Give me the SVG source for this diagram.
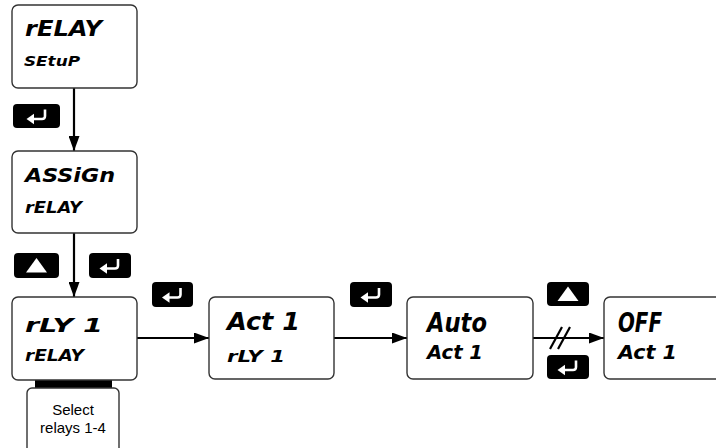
<svg xmlns="http://www.w3.org/2000/svg" xmlns:xlink="http://www.w3.org/1999/xlink" width="716" height="448" viewBox="0 0 716 448">
<style>
.box{fill:#fff;stroke:#333;stroke-width:1.4}
.btn{fill:#000}
.disp{font-family:"DejaVu Sans Condensed","DejaVu Sans",sans-serif;font-weight:bold;font-style:italic;fill:#000}
.conn{stroke:#000;stroke-width:2.2;fill:none}
.lbl{font-family:"Liberation Sans",Arial,sans-serif;font-size:15px;fill:#000;text-anchor:middle}
</style>
<defs>
<marker id="ah" markerUnits="userSpaceOnUse" markerWidth="15" markerHeight="11" refX="15" refY="5.5" orient="auto">
<path d="M0,0 L15,5.5 L0,11 z" fill="#000"/>
</marker>
<g id="enterIcon">
<path d="M8,-6.5 V0 Q8,3 5,3 H-4" fill="none" stroke="#fff" stroke-width="2.6"/>
<polygon points="-10.5,3 -3,-2.2 -3,8.2" fill="#fff"/>
</g>
<polygon id="upIcon" points="0,-7.5 10.5,7 -10.5,7" fill="#fff"/>
</defs>

<g id="connectors">
<line class="conn" x1="74" y1="88" x2="74" y2="151" marker-end="url(#ah)"/>
<line class="conn" x1="74" y1="233" x2="74" y2="297" marker-end="url(#ah)"/>
<line class="conn" x1="137" y1="338" x2="209" y2="338" marker-end="url(#ah)"/>
<line class="conn" x1="334" y1="338" x2="407" y2="338" marker-end="url(#ah)"/>
<line class="conn" x1="533" y1="338" x2="604" y2="338" marker-end="url(#ah)"/>
<line class="conn" x1="550" y1="349" x2="562" y2="327"/>
<line class="conn" x1="558" y1="349" x2="570" y2="327"/>
<rect x="35" y="379" width="77" height="9" fill="#000"/>
</g>

<g id="btn-enter-1"><rect class="btn" x="13" y="104" width="47" height="24" rx="4"/><use xlink:href="#enterIcon" x="37" y="116"/></g>
<g id="btn-up-1"><rect class="btn" x="14" y="253" width="45" height="25" rx="4"/><use xlink:href="#upIcon" x="36.5" y="265.5"/></g>
<g id="btn-enter-2"><rect class="btn" x="89" y="253" width="42" height="25" rx="4"/><use xlink:href="#enterIcon" x="110" y="265.5"/></g>
<g id="btn-enter-3"><rect class="btn" x="152" y="282" width="41" height="25" rx="4"/><use xlink:href="#enterIcon" x="172.5" y="294.5"/></g>
<g id="btn-enter-4"><rect class="btn" x="350" y="282" width="42" height="25" rx="4"/><use xlink:href="#enterIcon" x="371" y="294.5"/></g>
<g id="btn-up-2"><rect class="btn" x="547" y="282" width="42" height="24" rx="4"/><use xlink:href="#upIcon" x="568" y="294"/></g>
<g id="btn-enter-5"><rect class="btn" x="547" y="355" width="42" height="24" rx="4"/><use xlink:href="#enterIcon" x="568" y="367"/></g>

<g id="node-relay-setup">
<rect class="box" x="12" y="5" width="125" height="83" rx="6"/>
<text class="disp" x="25" y="36" font-size="22" textLength="77" lengthAdjust="spacingAndGlyphs">rELAY</text>
<text class="disp" x="24" y="66" font-size="14" textLength="56" lengthAdjust="spacingAndGlyphs">SEtuP</text>
</g>
<g id="node-assign-relay">
<rect class="box" x="12" y="151" width="125" height="82" rx="6"/>
<text class="disp" x="25" y="182" font-size="20" textLength="90" lengthAdjust="spacingAndGlyphs">ASSiGn</text>
<text class="disp" x="25" y="213" font-size="15" textLength="57" lengthAdjust="spacingAndGlyphs">rELAY</text>
</g>
<g id="node-rly1">
<rect class="box" x="12" y="297" width="125" height="83" rx="6"/>
<text class="disp" x="25" y="332" font-size="20" textLength="78" lengthAdjust="spacingAndGlyphs">rLY 1</text>
<text class="disp" x="25" y="361" font-size="16" textLength="59" lengthAdjust="spacingAndGlyphs">rELAY</text>
</g>
<g id="node-select">
<rect class="box" x="27" y="388" width="92" height="75" rx="5"/>
<text class="lbl" x="73" y="415">Select</text>
<text class="lbl" x="73" y="433">relays 1-4</text>
</g>
<g id="node-act1">
<rect class="box" x="209" y="297" width="125" height="82" rx="6"/>
<text class="disp" x="227" y="330" font-size="25" textLength="73" lengthAdjust="spacingAndGlyphs">Act 1</text>
<text class="disp" x="227" y="362" font-size="16" textLength="58" lengthAdjust="spacingAndGlyphs">rLY 1</text>
</g>
<g id="node-auto">
<rect class="box" x="407" y="297" width="126" height="82" rx="6"/>
<text class="disp" x="427" y="332" font-size="26" textLength="60" lengthAdjust="spacingAndGlyphs">Auto</text>
<text class="disp" x="427" y="359" font-size="19" textLength="56" lengthAdjust="spacingAndGlyphs">Act 1</text>
</g>
<g id="node-off">
<rect class="box" x="604" y="297" width="125" height="82" rx="6"/>
<text class="disp" x="618" y="332" font-size="26" textLength="44" lengthAdjust="spacingAndGlyphs">OFF</text>
<text class="disp" x="618" y="359" font-size="19" textLength="59" lengthAdjust="spacingAndGlyphs">Act 1</text>
</g>
</svg>
